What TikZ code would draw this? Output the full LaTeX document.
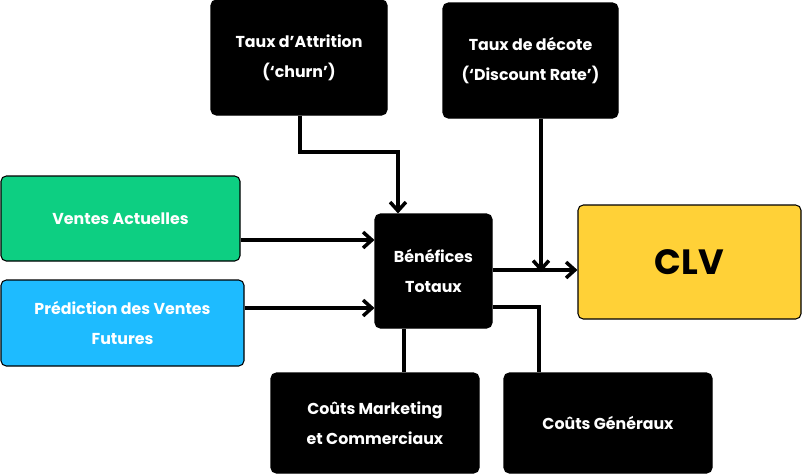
\documentclass[tikz,border=0pt]{standalone}
\usepackage{fontspec}
\setmainfont{Poppins}
\usetikzlibrary{positioning,arrows.meta}
\definecolor{vert}{HTML}{0DCF82}
\definecolor{bleu}{HTML}{1EBBFF}
\definecolor{jaune}{HTML}{FFD137}
\tikzset{
  boite/.style={draw=black,line width=0.6pt,rounded corners=3pt,align=center,
    font=\bfseries\fontsize{9}{17}\selectfont,inner sep=0pt},
  noire/.style={boite,fill=black,text=white},
  fleche/.style={line width=2pt,-{Straight Barb[length=5pt,width=9pt]}},
  trait/.style={line width=2pt}
}
\begin{document}
\begin{tikzpicture}[x=0.02cm,y=-0.02cm]
      \useasboundingbox (0,0) rectangle (802,474);
      % boites du haut
      \node[noire,minimum width=176*0.02cm,minimum height=115*0.02cm] (attr) at (299,57.5) {Taux d'Attrition\\(‘churn’)};
      \node[noire,minimum width=175*0.02cm,minimum height=115*0.02cm] (deco) at (530.5,60.5) {Taux de décote\\(‘Discount Rate’)};

      % entrees
      \node[boite,fill=vert,text=white,minimum width=239*0.02cm,minimum height=85*0.02cm] (ventes) at (120.5,218.5) {Ventes Actuelles};
      \node[boite,fill=bleu,text=white,minimum width=243*0.02cm,minimum height=86*0.02cm] (pred) at (122.5,323) {Prédiction des Ventes\\Futures};

      % centre et sortie
      \node[noire,minimum width=117*0.02cm,minimum height=114*0.02cm] (benef) at (433.5,271) {Bénéfices\\Totaux};
      \node[boite,fill=jaune,text=black,minimum width=223*0.02cm,minimum height=114*0.02cm,
        font=\bfseries\fontsize{20}{24}\selectfont] (clv) at (689.5,262) {CLV};

      % couts
      \node[noire,minimum width=208*0.02cm,minimum height=100*0.02cm] (mkt) at (375,423) {Coûts Marketing\\et Commerciaux};
      \node[noire,minimum width=208*0.02cm,minimum height=100*0.02cm] (gen) at (608,423) {Coûts Généraux};

      \draw[fleche] (attr.south -| 300,0) |- (398,152) -- (benef.north -| 398,0);
      \draw[fleche] (deco.south -| 541,0) -- (541,272);
      \draw[fleche] (ventes.east |- 0,240) -- (benef.west |- 0,240);
      \draw[fleche] (pred.east |- 0,308) -- (benef.west |- 0,308);
      \draw[fleche] (benef.east |- 0,270) -- (clv.west |- 0,270);
      \draw[trait] (benef.south -| 404,0) -- (mkt.north -| 404,0);
      \draw[trait] (benef.east |- 0,307) -| (gen.north -| 539,0);
\end{tikzpicture}
\end{document}
